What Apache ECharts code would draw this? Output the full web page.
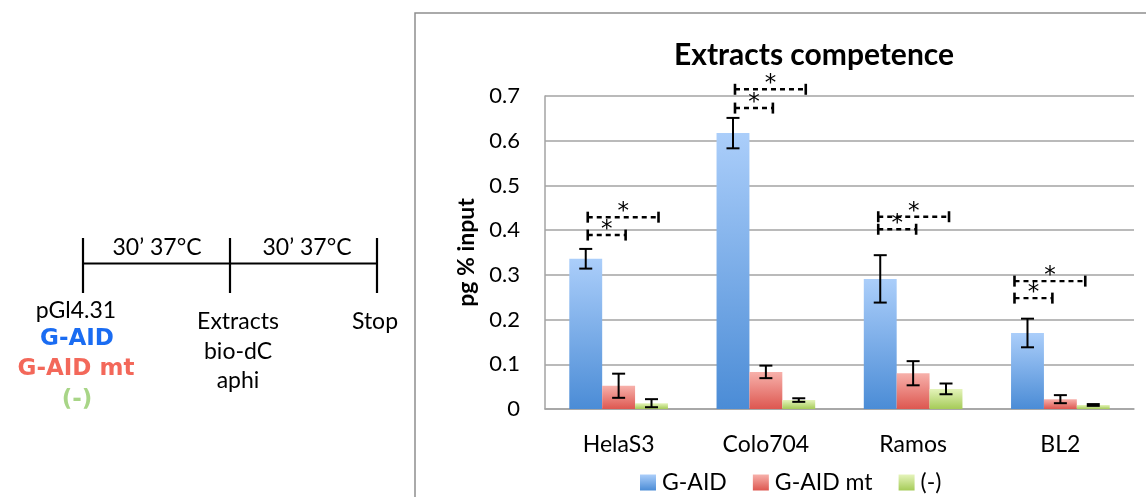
<!DOCTYPE html>
<html>
<head>
<meta charset="utf-8">
<script src="https://cdn.jsdelivr.net/npm/echarts@6/dist/echarts.min.js"></script>
<style>
  html, body { margin: 0; padding: 0; background: #fff; }
  #chart { width: 1146px; height: 497px; }
</style>
</head>
<body>
<div id="chart"></div>
<script>
// Cell lines and measured signal (pg % input), mean and error
const categories = ['HelaS3', 'Colo704', 'Ramos', 'BL2'];
const seriesNames = ['G-AID', 'G-AID mt', '(-)'];
const gAid      = [0.336, 0.617, 0.291, 0.170];
const gAidErr   = [0.022, 0.034, 0.053, 0.032];
const gAidMt    = [0.052, 0.083, 0.080, 0.022];
const gAidMtErr = [0.027, 0.014, 0.027, 0.009];
const neg       = [0.013, 0.020, 0.045, 0.009];
const negErr    = [0.009, 0.004, 0.012, 0.002];

// Significance brackets: height of G-AID vs G-AID mt and G-AID vs (-)
const sigVsMt  = [0.389, 0.673, 0.402, 0.248];
const sigVsNeg = [0.429, 0.715, 0.430, 0.286];
const sigMark = '*';

// Value axis ticks
const yMin = 0, yMax = 0.7, yStep = 0.1;

// ---- layout / style ----
const FONT = 'Lato, "Open Sans", sans-serif';
const BOLD_FONT = '"DejaVu Sans", Lato, sans-serif';
const CAT_GAP = 0.33;                 // fraction of band left empty
const bracketShift = [4, 4, 0, -11];  // horizontal nudge of each bracket group (px)

const grad = (top, bottom) => new echarts.graphic.LinearGradient(0, 0, 0, 1, [
  { offset: 0, color: top }, { offset: 1, color: bottom }
]);
const colors = [
  grad('#abcefa', '#4b8cd6'),
  grad('#f7b1ab', '#dd5750'),
  grad('#e5f4bb', '#a5cb58')
];

function barCenter(api, ci, si) {
  const band = api.size([1, 0])[0];
  const bw = band * (1 - CAT_GAP) / 3;
  return api.coord([ci, 0])[0] + (si - 1) * bw;
}

function errorBars(si) {
  return function (params, api) {
    const ci = api.value(0), v = api.value(1), e = api.value(2);
    const x = barCenter(api, ci, si);
    const yt = api.coord([ci, v + e])[1];
    const yb = api.coord([ci, v - e])[1];
    const cap = 6.5;
    const st = { stroke: '#000', lineWidth: 2 };
    return {
      type: 'group',
      children: [
        { type: 'line', shape: { x1: x, y1: yt, x2: x, y2: yb }, style: st },
        { type: 'line', shape: { x1: x - cap, y1: yt, x2: x + cap, y2: yt }, style: st },
        { type: 'line', shape: { x1: x - cap, y1: yb, x2: x + cap, y2: yb }, style: st }
      ]
    };
  };
}

function bracketItem(params, api) {
  const ci = api.value(0), yv = api.value(1), target = api.value(2);
  const s = bracketShift[ci];
  const x1 = barCenter(api, ci, 0) - 2 + s;
  const x2 = barCenter(api, ci, target) + 3 + s;
  const y = api.coord([ci, yv])[1];
  const th = 5.5;
  const tick = { stroke: '#000', lineWidth: 2.6 };
  return {
    type: 'group',
    children: [
      { type: 'line', shape: { x1: x1, y1: y, x2: x2, y2: y },
        style: { stroke: '#000', lineWidth: 2.4, lineDash: [5, 4] } },
      { type: 'line', shape: { x1: x1, y1: y - th, x2: x1, y2: y + th }, style: tick },
      { type: 'line', shape: { x1: x2, y1: y - th, x2: x2, y2: y + th }, style: tick },
      { type: 'text', x: (x1 + x2) / 2, y: y - 5,
        style: { text: sigMark, font: '23px "DejaVu Sans", sans-serif', fill: '#000',
                 align: 'center', verticalAlign: 'middle' } }
    ]
  };
}

const values = [gAid, gAidMt, neg];
const errs = [gAidErr, gAidMtErr, negErr];

const barSeries = seriesNames.map((name, si) => ({
  name: name,
  type: 'bar',
  data: values[si],
  barGap: '0%',
  barCategoryGap: (CAT_GAP * 100) + '%',
  itemStyle: { color: colors[si] },
  z: 2
}));

const errSeries = seriesNames.map((name, si) => ({
  type: 'custom',
  renderItem: errorBars(si),
  encode: { x: 0, y: 1 },
  data: categories.map((c, ci) => [ci, values[si][ci], errs[si][ci]]),
  z: 5,
  silent: true
}));

const bracketData = [];
categories.forEach((c, ci) => {
  bracketData.push([ci, sigVsMt[ci], 1]);
  bracketData.push([ci, sigVsNeg[ci], 2]);
});
const bracketSeries = {
  type: 'custom',
  renderItem: bracketItem,
  encode: { x: 0, y: 1 },
  data: bracketData,
  clip: false,
  z: 6,
  silent: true
};

// Protocol timeline on the left
const lineStyle = { stroke: '#000', lineWidth: 2.2 };
const txt = (text, x, y, size, color, bold) => ({
  type: 'text', x: x, y: y,
  style: { text: text, font: (bold ? 'bold ' + size + 'px ' + BOLD_FONT : size + 'px ' + FONT),
           fill: color || '#000', align: 'center', verticalAlign: 'middle' }
});
const timeline = [
  { type: 'line', shape: { x1: 83, y1: 263.5, x2: 377, y2: 263.5 }, style: lineStyle },
  { type: 'line', shape: { x1: 83, y1: 238, x2: 83, y2: 293 }, style: lineStyle },
  { type: 'line', shape: { x1: 230, y1: 238, x2: 230, y2: 293 }, style: lineStyle },
  { type: 'line', shape: { x1: 377, y1: 238, x2: 377, y2: 293 }, style: lineStyle },
  txt('30\u2019 37°C', 157, 248, 23),
  txt('30\u2019 37°C', 307, 248, 23),
  txt('pGl4.31', 76, 311, 23),
  txt('G-AID', 77, 339, 23, '#1a6cf2', true),
  txt('G-AID mt', 76, 369, 23, '#f3685a', true),
  txt('(-)', 77, 400, 23, '#a8d587', true),
  txt('Extracts', 238, 322, 23),
  txt('bio-dC', 238, 352, 23),
  txt('aphi', 238, 381, 23),
  txt('Stop', 375, 322, 23)
];

const chart = echarts.init(document.getElementById('chart'), null, { renderer: 'canvas' });
chart.setOption({
  animation: false,
  backgroundColor: '#fff',
  textStyle: { fontFamily: FONT },
  graphic: [
    { type: 'rect', shape: { x: 415, y: 13, width: 800, height: 600 },
      style: { fill: 'none', stroke: '#8e8e8e', lineWidth: 1.5 }, z: -1 },
    { type: 'text', x: 814, y: 55,
      style: { text: 'Extracts competence', font: 'bold 30px ' + FONT, fill: '#000',
               align: 'center', verticalAlign: 'middle' } }
  ].concat(timeline),
  legend: {
    data: seriesNames,
    left: 640, top: 471,
    padding: 0,
    icon: 'rect', itemWidth: 16, itemHeight: 16, itemGap: 26,
    textStyle: { fontFamily: FONT, fontSize: 23, color: '#000', padding: [0, 0, 0, 1] },
    selectedMode: false
  },
  grid: { left: 545, right: 12, top: 96, bottom: 88 },
  xAxis: {
    type: 'category',
    data: categories,
    axisLine: { lineStyle: { color: '#a3a3a3', width: 1.5 } },
    axisTick: { show: false },
    axisLabel: { fontFamily: FONT, fontSize: 23, color: '#000', margin: 24 }
  },
  yAxis: {
    type: 'value',
    min: yMin, max: yMax, interval: yStep,
    name: 'pg % input',
    nameLocation: 'middle',
    nameGap: 62,
    nameRotate: 90,
    nameTextStyle: { fontFamily: FONT, fontSize: 23, fontWeight: 'bold', color: '#000' },
    axisLine: { show: true, lineStyle: { color: '#a3a3a3', width: 1.5 } },
    axisTick: { show: false },
    splitLine: { lineStyle: { color: '#a3a3a3', width: 1.5 } },
    axisLabel: { fontFamily: FONT, fontSize: 22, color: '#000', margin: 25,
                 formatter: v => (v === 0 ? '0' : v.toFixed(1)) }
  },
  series: barSeries.concat(errSeries, [bracketSeries])
});
</script>
</body>
</html>
